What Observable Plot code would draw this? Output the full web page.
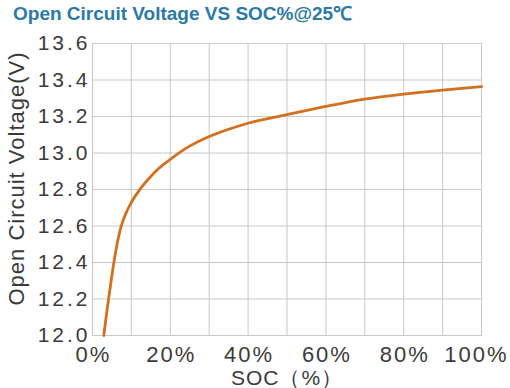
<!DOCTYPE html>
<html>
<head>
<meta charset="utf-8">
<script src="https://cdn.jsdelivr.net/npm/d3@7"></script>
<script src="https://cdn.jsdelivr.net/npm/@observablehq/plot@0.6"></script>
<style>
  html, body { margin: 0; padding: 0; background: #fff; }
  #wrap { width: 510px; height: 388px; position: relative; overflow: hidden; }
  #title { height: 30px; box-sizing: border-box; padding: 3px 0 0 13px; font: bold 19px "Liberation Sans", Arial, sans-serif; line-height: 22px; color: #2a7aa5; white-space: nowrap; }
  #chart svg { display: block; overflow: visible; }
</style>
</head>
<body>
<div id="wrap">
  <div id="title">Open Circuit Voltage VS SOC%@25℃</div>
  <div id="chart"></div>
</div>
<script>
const titleText = "Open Circuit Voltage VS SOC%@25℃";
const xLabel = "SOC（%）";
const yLabel = "Open Circuit Voltage(V)";

const soc     = [2.9,   3.5,   4.2,   5.0,   5.8,   6.5,   7.2,   8.5,    10,    12,     14.5,  17,     20,     24,     30,    35,    40,     50,    60,     70,     80,     90,     100];
const voltage = [12.00, 12.10, 12.21, 12.33, 12.44, 12.52, 12.585, 12.665, 12.73, 12.795, 12.86, 12.915, 12.965, 13.025, 13.09, 13.13, 13.163, 13.21, 13.255, 13.295, 13.323, 13.345, 13.364];

const xTicks = [0, 20, 40, 60, 80, 100];
const xTickLabels = ["0%", "20%", "40%", "60%", "80%", "100%"];
const yTicks = [12.0, 12.2, 12.4, 12.6, 12.8, 13.0, 13.2, 13.4, 13.6];
const yTickLabels = ["12.0", "12.2", "12.4", "12.6", "12.8", "13.0", "13.2", "13.4", "13.6"];
const xGrid = [0, 10, 20, 30, 40, 50, 60, 70, 80, 90, 100];

const data = soc.map((s, i) => ({soc: s, v: voltage[i]}));

const chart = Plot.plot({
  width: 510,
  height: 358,
  marginTop: 13,
  marginBottom: 53,
  marginLeft: 92,
  marginRight: 29,
  style: {fontFamily: '"Liberation Sans", Arial, sans-serif', color: "#3a3a3a", background: "#fff"},
  x: {domain: [0, 100]},
  y: {domain: [12.0, 13.6]},
  marks: [
    Plot.gridX(xGrid, {stroke: "#c9c9c9", strokeOpacity: 1, strokeWidth: 1}),
    Plot.gridY(yTicks, {stroke: "#c9c9c9", strokeOpacity: 1, strokeWidth: 1}),
    Plot.frame({stroke: "#c9c9c9", strokeWidth: 1}),
    Plot.line(data, {x: "soc", y: "v", stroke: "#d2701e", strokeWidth: 2.8, curve: "monotone-x"}),
    Plot.axisX(xTicks, {tickSize: 0, tickPadding: 11, fontSize: 22, fill: "#3a3a3a", label: null,
      tickFormat: (d) => xTickLabels[xTicks.indexOf(d)]}),
    Plot.axisY(yTicks, {tickSize: 0, tickPadding: 2, fontSize: 21, fill: "#3a3a3a", label: null,
      tickFormat: (d) => yTickLabels[yTicks.indexOf(d)]}),
    Plot.text([yLabel], {frameAnchor: "left", textAnchor: "middle", lineAnchor: "middle", rotate: -90, dx: -76, dy: -11, fontSize: 22, fill: "#3a3a3a", text: (d) => d}),
    Plot.text([xLabel], {frameAnchor: "bottom", lineAnchor: "middle", dy: 43, fontSize: 21, fill: "#3a3a3a", text: (d) => d})
  ]
});
document.getElementById("chart").appendChild(chart);
const svg = d3.select(chart);
svg.selectAll('g[aria-label="y-axis tick label"] text').style("letter-spacing", "3px");
const xt = svg.selectAll('g[aria-label="x-axis tick label"] text').style("letter-spacing", "2px").attr("dx", 1);
xt.filter((d, i, n) => i === n.length - 1).attr("dx", -5);
svg.selectAll('g[aria-label="text"] text').style("letter-spacing", "1px");
</script>
</body>
</html>
